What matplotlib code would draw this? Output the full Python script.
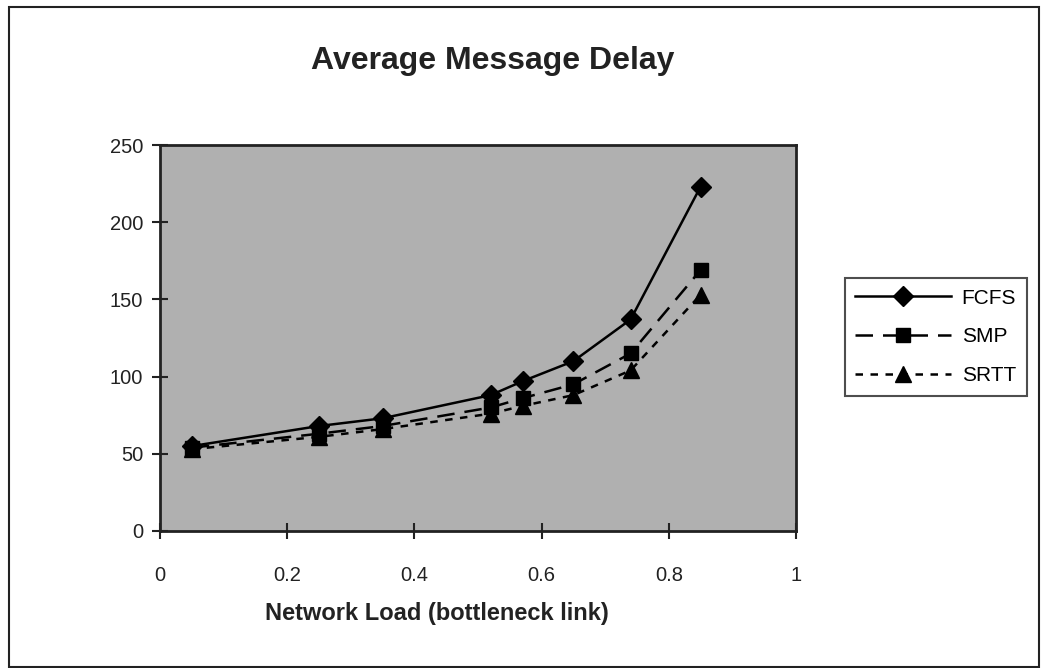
import matplotlib
matplotlib.use("Agg")
import matplotlib.pyplot as plt
from matplotlib.patches import Rectangle

plt.rcParams["font.family"] = ["Liberation Sans", "DejaVu Sans"]

load = [0.05, 0.25, 0.35, 0.52, 0.57, 0.65, 0.74, 0.85]
fcfs = [55, 68, 73, 88, 97, 110, 137, 223]
smp = [54, 63, 68, 80, 86, 95, 115, 169]
srtt = [53, 61, 66, 76, 81, 88, 104, 153]

xticks = [0, 0.2, 0.4, 0.6, 0.8, 1]
xticklabels = ["0", "0.2", "0.4", "0.6", "0.8", "1"]
yticks = [0, 50, 100, 150, 200, 250]

fig = plt.figure(figsize=(10.48, 6.68), dpi=100)
fig.patches.append(Rectangle((0.009, 0.002), 0.982, 0.988, transform=fig.transFigure,
                             fill=False, edgecolor="#222222", linewidth=1.5))

ax = fig.add_axes([0.1527, 0.2051, 0.6068, 0.5778])
ax.set_facecolor("#b0b0b0")

ax.plot(load, fcfs, color="black", lw=1.8, linestyle="-", marker="D",
        markersize=10, label="FCFS")
ax.plot(load, smp, color="black", lw=1.8, linestyle=(0, (7, 4)), marker="s",
        markersize=10, label="SMP")
ax.plot(load, srtt, color="black", lw=1.8, linestyle=(0, (3, 3)), marker="^",
        markersize=11, label="SRTT")

ax.set_xlim(0, 1)
ax.set_ylim(0, 250)
ax.set_xticks(xticks)
ax.set_xticklabels(xticklabels)
ax.set_yticks(yticks)
ax.tick_params(direction="inout", length=12, width=1.5, labelsize=14.5,
               colors="#222222")
ax.tick_params(axis="x", pad=19)
ax.tick_params(axis="y", pad=6)
for sp in ax.spines.values():
    sp.set_linewidth(2)
    sp.set_color("#222222")

# the x label sits left of the plot centre in the original
fig.text(0.417, 0.081, "Network Load (bottleneck link)", fontsize=17,
         fontweight="bold", ha="center", va="center", color="#222222")
fig.text(0.470, 0.908, "Average Message Delay", fontsize=23, fontweight="bold",
         ha="center", va="center", color="#222222")

leg = ax.legend(loc="upper left", bbox_to_anchor=(1.077, 0.655), fontsize=15,
                frameon=True, fancybox=False, edgecolor="#222222",
                handlelength=4.6, borderpad=0.5, labelspacing=0.95,
                handletextpad=0.5, borderaxespad=0)
leg.get_frame().set_linewidth(1.5)

fig.savefig("out.png", dpi=100, facecolor="white")
